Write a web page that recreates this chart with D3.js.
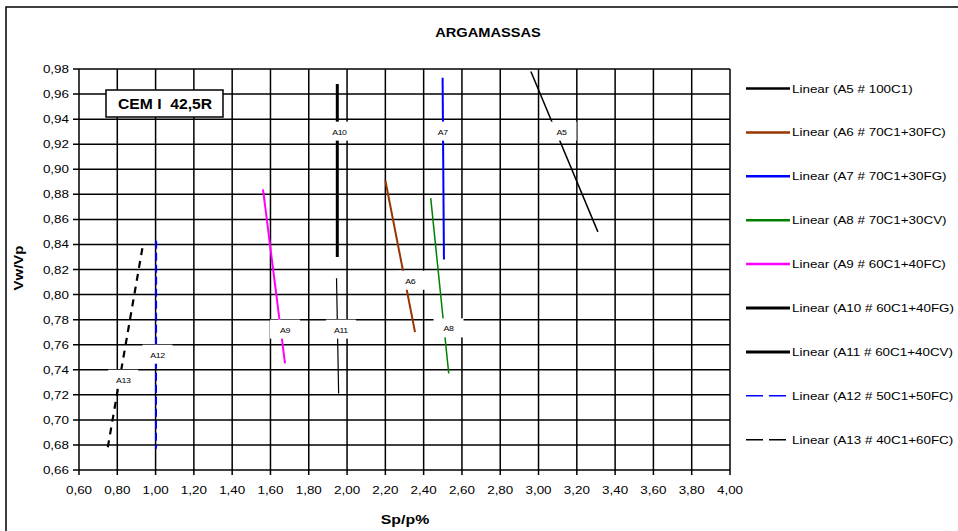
<!DOCTYPE html>
<html>
<head>
<meta charset="utf-8">
<script src="https://cdn.jsdelivr.net/npm/d3@7"></script>
<style>
  body { margin: 0; background: #fff; }
  text { font-family: "Liberation Sans", Arial, sans-serif; }
</style>
</head>
<body>
<div id="chart"></div>
<script>
// ticks
const xTicks = [0.6, 0.8, 1.0, 1.2, 1.4, 1.6, 1.8, 2.0, 2.2, 2.4, 2.6, 2.8, 3.0, 3.2, 3.4, 3.6, 3.8, 4.0];
const yTicks = [0.66, 0.68, 0.70, 0.72, 0.74, 0.76, 0.78, 0.80, 0.82, 0.84, 0.86, 0.88, 0.90, 0.92, 0.94, 0.96, 0.98];

// trend lines: [start, end] as [Sp/p%, Vw/Vp]
const seriesNames = ['A5 # 100C1', 'A6 # 70C1+30FC', 'A7 # 70C1+30FG', 'A8 # 70C1+30CV', 'A9 # 60C1+40FC',
    'A10 # 60C1+40FG', 'A11 # 60C1+40CV', 'A12 # 50C1+50FC', 'A13 # 40C1+60FC'];
const seriesLines = [
    [[2.96, 0.978], [3.31, 0.850]],
    [[2.20, 0.891], [2.355, 0.770]],
    [[2.499, 0.973], [2.506, 0.828]],
    [[2.437, 0.877], [2.531, 0.737]],
    [[1.561, 0.884], [1.676, 0.745]],
    [[1.949, 0.968], [1.949, 0.830]],
    [[1.945, 0.813], [1.956, 0.721]],
    [[1.003, 0.843], [1.002, 0.677]],
    [[0.931, 0.837], [0.748, 0.676]]
];
// point labels on the plot
const labelText = ['A5', 'A6', 'A7', 'A8', 'A9', 'A10', 'A11', 'A12', 'A13'];
const labelPos = [[3.12, 0.930], [2.33, 0.811], [2.50, 0.930], [2.53, 0.773], [1.676, 0.772],
    [1.96, 0.930], [1.968, 0.772], [1.01, 0.752], [0.831, 0.732]];

const styles = [
    { color: '#000000', width: 1.5, dash: null, legendWidth: 2.5 },
    { color: '#993300', width: 2, dash: null, legendWidth: 2.5 },
    { color: '#0000ff', width: 2, dash: null, legendWidth: 2.5 },
    { color: '#008000', width: 1.5, dash: null, legendWidth: 2.5 },
    { color: '#ff00ff', width: 2, dash: null, legendWidth: 2.5 },
    { color: '#000000', width: 3, dash: null, legendWidth: 3 },
    { color: '#000000', width: 1.2, dash: null, legendWidth: 3 },
    { color: '#0000ff', width: 2, dash: '8,4', legendWidth: 1.5, legendDash: '17,6' },
    { color: '#000000', width: 2.2, dash: '7,6', legendWidth: 1.5, legendDash: '17,6' }
];

const svgWidth = 958, svgHeight = 531;
const plot = { left: 79, right: 730, top: 69, bottom: 470 };
const stretch = 1.22; // the source text is drawn a bit wide

const svg = d3.select('#chart')
    .append('svg')
    .attr('width', svgWidth)
    .attr('height', svgHeight);

const xScale = d3.scaleLinear().domain([0.6, 4.0]).range([plot.left, plot.right]);
const yScale = d3.scaleLinear().domain([0.66, 0.98]).range([plot.bottom, plot.top]);
const fmt = d => d3.format('.2f')(d).replace('.', ',');
const at = (x, y, s = stretch) => `translate(${x}, ${y}) scale(${s}, 1)`;

// outer chart border (cropped on right/bottom)
svg.append('path')
    .attr('d', `M6,${svgHeight + 5} V7 H${svgWidth + 5}`)
    .style('fill', 'none')
    .style('stroke', '#000')
    .style('stroke-width', 1.5);

svg.append('text')
    .attr('transform', at(488, 37))
    .attr('text-anchor', 'middle')
    .style('font-size', '12px').style('font-weight', 'bold')
    .text('ARGAMASSAS');

// grid
svg.append('g').selectAll('line')
    .data(xTicks)
    .enter().append('line')
    .attr('x1', d => xScale(d)).attr('x2', d => xScale(d))
    .attr('y1', plot.top).attr('y2', plot.bottom + 5)
    .style('stroke', '#000').style('stroke-width', 1.5);

svg.append('g').selectAll('line')
    .data(yTicks)
    .enter().append('line')
    .attr('x1', plot.left - 6).attr('x2', plot.right)
    .attr('y1', d => yScale(d)).attr('y2', d => yScale(d))
    .style('stroke', '#000').style('stroke-width', 1.5);

// tick labels
svg.append('g').selectAll('text')
    .data(xTicks)
    .enter().append('text')
    .attr('transform', d => at(xScale(d), 494))
    .attr('text-anchor', 'middle')
    .style('font-size', '11px')
    .text(fmt);

svg.append('g').selectAll('text')
    .data(yTicks)
    .enter().append('text')
    .attr('transform', d => at(69, yScale(d) + 4))
    .attr('text-anchor', 'end')
    .style('font-size', '11px')
    .text(fmt);

svg.append('text')
    .attr('transform', at(405, 524))
    .attr('text-anchor', 'middle')
    .style('font-size', '13px').style('font-weight', 'bold')
    .text('Sp/p%');

svg.append('text')
    .attr('transform', 'translate(23, 268) rotate(-90) scale(1.15, 1)')
    .attr('text-anchor', 'middle')
    .style('font-size', '13px').style('font-weight', 'bold')
    .text('Vw/Vp');

// trend lines
const lineGenerator = d3.line()
    .x(d => xScale(d[0]))
    .y(d => yScale(d[1]));

svg.append('g').selectAll('path')
    .data(seriesLines)
    .enter().append('path')
    .attr('d', d => lineGenerator(d))
    .style('fill', 'none')
    .style('stroke', (d, i) => styles[i].color)
    .style('stroke-width', (d, i) => styles[i].width)
    .style('stroke-dasharray', (d, i) => styles[i].dash);

// labels with white boxes
const labels = svg.append('g').selectAll('g')
    .data(labelText)
    .enter().append('g')
    .attr('transform', (d, i) => `translate(${xScale(labelPos[i][0])}, ${yScale(labelPos[i][1])})`);

labels.append('rect')
    .attr('x', -15).attr('y', -10)
    .attr('width', 30).attr('height', 19)
    .style('fill', '#fff');

labels.append('text')
    .attr('transform', 'translate(0, 3) scale(1.1, 1)')
    .attr('text-anchor', 'middle')
    .style('font-size', '8px')
    .style('letter-spacing', '-0.4px')
    .text(d => d);

// CEM I box
svg.append('rect')
    .attr('x', 106).attr('y', 90)
    .attr('width', 117).attr('height', 27)
    .style('fill', '#fff')
    .style('stroke', '#000').style('stroke-width', 1.5);

svg.append('text')
    .attr('transform', at(165, 109, 1.12))
    .attr('text-anchor', 'middle')
    .style('font-size', '14px').style('font-weight', 'bold')
    .style('white-space', 'pre')
    .text('CEM I  42,5R');

// legend
const legend = svg.append('g').selectAll('g')
    .data(seriesNames)
    .enter().append('g')
    .attr('transform', (d, i) => `translate(746, ${88.5 + i * 43.9})`);

legend.append('line')
    .attr('x1', 0).attr('x2', 44)
    .style('stroke', (d, i) => styles[i].color)
    .style('stroke-width', (d, i) => styles[i].legendWidth)
    .style('stroke-dasharray', (d, i) => styles[i].legendDash || null);

legend.append('text')
    .attr('transform', at(46, 4))
    .style('font-size', '11px')
    .text(d => `Linear (${d})`);
</script>
</body>
</html>
